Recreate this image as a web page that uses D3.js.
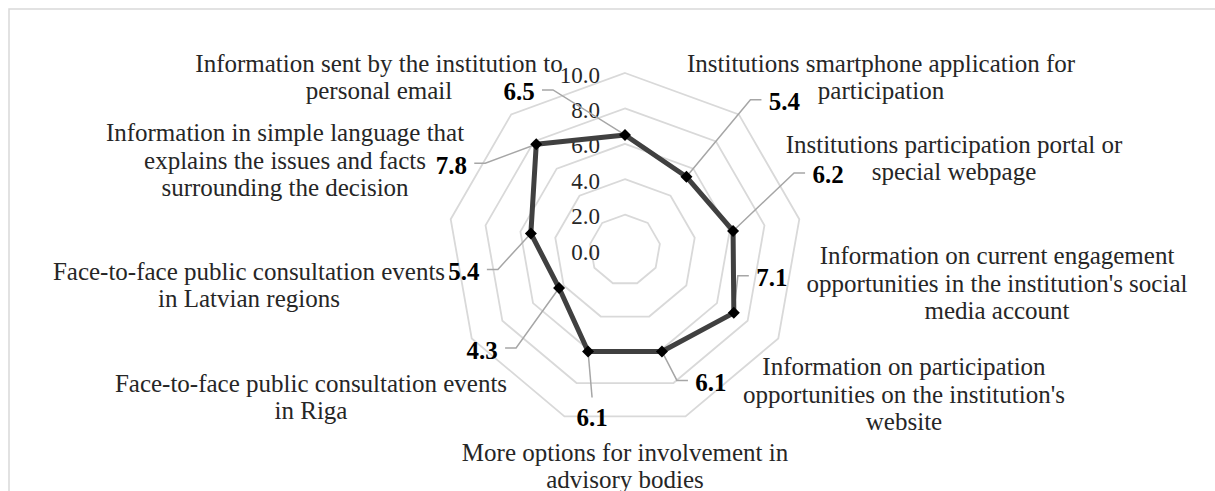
<!DOCTYPE html>
<html>
<head>
<meta charset="utf-8">
<script src="https://cdn.jsdelivr.net/npm/d3@7"></script>
<style>
  body { margin: 0; background: #fff; }
  svg { display: block; font-family: "Liberation Serif", "Times New Roman", serif; }
</style>
</head>
<body>
<svg id="chart" width="1215" height="491"></svg>
<script>
// data
const categories = [
  ["Information sent by the institution to", "personal email"],
  ["Institutions smartphone application for", "participation"],
  ["Institutions participation portal or", "special webpage"],
  ["Information on current engagement", "opportunities in the institution's social", "media account"],
  ["Information on participation", "opportunities on the institution's", "website"],
  ["More options for involvement in", "advisory bodies"],
  ["Face-to-face public consultation events", "in Riga"],
  ["Face-to-face public consultation events", "in Latvian regions"],
  ["Information in simple language that", "explains the issues and facts", "surrounding the decision"]
];
const values = [6.5, 5.4, 6.2, 7.1, 6.1, 6.1, 4.3, 5.4, 7.8];
const ticks = [0, 2, 4, 6, 8, 10];

// layout (label boxes placed by hand, like in the original)
const catLabelPos = [
  [379, 77], [881, 77], [954, 158], [997, 283], [904, 394],
  [625, 466], [311, 397], [249, 285], [285, 160]
];
// value label offset from its point, and on which side the leader attaches
const valLabelOff = [
  [-106, -43, "right"], [98, -75, "left"], [95, -56, "left"], [38, -35, "left"],
  [49, 31, "left"], [4, 66, "top"], [-77, 62, "right"], [-67, 38, "right"], [-85, 21, "right"]
];

const cx = 625, cy = 250;
const svg = d3.select("#chart");

// frame
svg.append("rect")
  .attr("x", 9).attr("y", 9)
  .attr("width", 1300).attr("height", 600)
  .attr("fill", "#fff")
  .attr("stroke", "#d9d9d9")
  .attr("stroke-width", 1.5);

const r = d3.scaleLinear().domain([0, 10]).range([0, 177]);
const angle = d3.scaleLinear().domain([0, values.length]).range([0, 2 * Math.PI]);

const g = svg.append("g").attr("transform", `translate(${cx},${cy})`);

const pt = (i, v) => [r(v) * Math.sin(angle(i)), -r(v) * Math.cos(angle(i))];

// rings
const ring = d3.lineRadial()
  .angle((d, i) => angle(i))
  .radius(d => r(d))
  .curve(d3.curveLinearClosed);

g.selectAll(".ring")
  .data(ticks.filter(t => t > 0))
  .enter()
  .append("path")
  .attr("class", "ring")
  .attr("d", t => ring(values.map(() => t)))
  .attr("fill", "none")
  .attr("stroke", "#d9d9d9")
  .attr("stroke-width", 1.8);

// tick labels
g.selectAll(".tick")
  .data(ticks)
  .enter()
  .append("text")
  .attr("class", "tick")
  .attr("x", -25)
  .attr("y", t => -r(t) + 2)
  .attr("text-anchor", "end")
  .attr("dominant-baseline", "central")
  .attr("font-size", 23)
  .attr("fill", "#262626")
  .text(t => t.toFixed(1));

// leader lines
g.selectAll(".leader")
  .data(values)
  .enter()
  .append("path")
  .attr("class", "leader")
  .attr("fill", "none")
  .attr("stroke", "#a6a6a6")
  .attr("stroke-width", 1.5)
  .attr("d", (v, i) => {
    const [px, py] = pt(i, v);
    const [dx, dy, side] = valLabelOff[i];
    const lx = px + dx, ly = py + dy;
    if (side === "top") {
      return `M${px},${py}L${lx},${ly - 20}`;
    }
    const s = side === "left" ? -1 : 1;
    const x1 = lx + s * 23, x2 = lx + s * 34;
    return `M${x1},${ly - 2}L${x2},${ly - 2}L${px},${py}`;
  });

// series line
const line = d3.lineRadial()
  .angle((d, i) => angle(i))
  .radius(d => r(d))
  .curve(d3.curveLinearClosed);

g.append("path")
  .attr("d", line(values))
  .attr("fill", "none")
  .attr("stroke", "#404040")
  .attr("stroke-width", 5)
  .attr("stroke-linejoin", "round");

// markers
g.selectAll(".marker")
  .data(values)
  .enter()
  .append("path")
  .attr("class", "marker")
  .attr("d", d3.symbol(d3.symbolSquare, 72))
  .attr("transform", (v, i) => {
    const [px, py] = pt(i, v);
    return `translate(${px},${py}) rotate(45)`;
  })
  .attr("fill", "#000");

// value labels
g.selectAll(".val")
  .data(values)
  .enter()
  .append("text")
  .attr("class", "val")
  .attr("x", (v, i) => pt(i, v)[0] + valLabelOff[i][0])
  .attr("y", (v, i) => pt(i, v)[1] + valLabelOff[i][1])
  .attr("text-anchor", "middle")
  .attr("dominant-baseline", "central")
  .attr("font-size", 25)
  .attr("font-weight", "bold")
  .attr("fill", "#000")
  .text(v => v.toFixed(1));

// category labels
const lineH = 27.5;
const cat = svg.selectAll(".cat")
  .data(categories)
  .enter()
  .append("text")
  .attr("class", "cat")
  .attr("text-anchor", "middle")
  .attr("font-size", 25)
  .attr("fill", "#262626");

cat.each(function (lines, i) {
  const [x, y] = catLabelPos[i];
  const y0 = y - (lines.length - 1) * lineH / 2;
  d3.select(this).selectAll("tspan")
    .data(lines)
    .enter()
    .append("tspan")
    .attr("x", x)
    .attr("y", (d, k) => y0 + k * lineH)
    .attr("dominant-baseline", "central")
    .text(d => d);
});
</script>
</body>
</html>
